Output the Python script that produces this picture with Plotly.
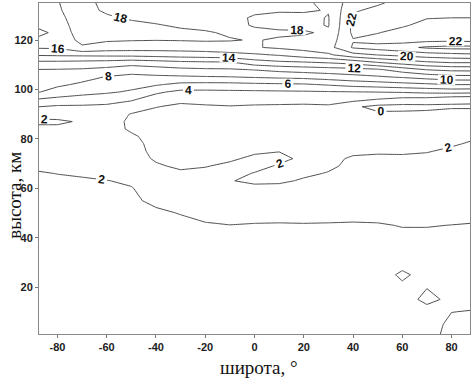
import plotly.graph_objects as go

# latitude grid (deg) and altitude grid (km)
latitudes = [-87.5, -80, -70, -60, -50, -40, -30, -20, -10, 0, 10, 20, 30, 40, 50, 60, 70, 80, 87.5]
altitudes = [1, 5, 10, 15, 20, 25, 30, 35, 40, 45, 50, 55, 60, 63, 66, 69, 72, 75, 78, 81,
             84, 87, 90, 93, 96, 99, 102, 105, 108, 111, 114, 117, 120, 123, 126, 129, 132, 135]

# field values, one row per altitude (south -> north)
r001 = [1.0, 1.0, 1.0, 1.0, 1.0, 1.0, 1.0, 1.0, 1.0, 1.0, 1.0, 1.0, 1.0, 1.0, 1.0, 1.0, 0.6, -0.5, -0.6]
r005 = [1.0, 1.0, 1.0, 1.0, 1.0, 1.0, 1.0, 1.0, 1.0, 1.0, 1.0, 1.0, 1.0, 1.0, 1.0, 1.0, 0.6, -0.3, -0.4]
r010 = [1.0, 1.0, 1.0, 1.0, 1.0, 1.0, 1.0, 1.0, 1.0, 1.0, 1.0, 1.0, 1.0, 1.0, 1.0, 0.9, 0.5, 0.02, -0.05]
r015 = [1.0, 1.0, 1.0, 1.0, 1.0, 1.0, 1.0, 1.0, 1.0, 1.0, 1.0, 1.0, 1.0, 1.0, 0.9, 0.6, -0.35, 0.3, 0.4]
r020 = [1.0, 1.0, 1.0, 1.0, 1.0, 1.0, 1.0, 1.0, 1.0, 1.0, 1.0, 1.0, 1.0, 1.0, 0.9, 0.3, 0.05, 0.5, 0.6]
r025 = [1.05, 1.05, 1.05, 1.05, 1.05, 1.05, 1.05, 1.05, 1.05, 1.05, 1.05, 1.05, 1.05, 1.05, 0.8, -0.3, 0.6, 0.7, 0.8]
r030 = [1.1, 1.1, 1.1, 1.1, 1.1, 1.1, 1.1, 1.1, 1.1, 1.1, 1.1, 1.1, 1.1, 1.1, 0.9, 0.6, 0.8, 0.9, 0.9]
r035 = [1.2, 1.2, 1.2, 1.2, 1.2, 1.2, 1.2, 1.2, 1.2, 1.2, 1.2, 1.2, 1.2, 1.2, 1.2, 1.0, 1.1, 1.2, 1.2]
r040 = [1.2, 1.2, 1.25, 1.3, 1.35, 1.3, 1.4, 1.5, 1.6, 1.6, 1.6, 1.6, 1.6, 1.55, 1.6, 1.5, 1.5, 1.5, 1.5]
r045 = [1.3, 1.3, 1.35, 1.4, 1.5, 1.5, 1.7, 1.8, 1.97, 1.85, 1.8, 1.85, 1.8, 1.75, 1.8, 2.1, 2.1, 1.97, 1.85]
r050 = [1.4, 1.4, 1.45, 1.5, 1.65, 1.8, 2.05, 2.6, 2.8, 2.8, 2.8, 2.8, 2.8, 2.7, 2.8, 2.8, 2.8, 2.8, 2.8]
r055 = [1.5, 1.55, 1.6, 1.65, 1.8, 2.25, 2.6, 2.9, 3.0, 3.0, 2.9, 2.9, 2.9, 2.9, 2.9, 2.9, 2.9, 2.9, 2.9]
r060 = [1.65, 1.7, 1.75, 1.85, 1.95, 2.5, 2.8, 2.9, 2.6, 2.5, 2.5, 2.6, 2.8, 2.9, 2.9, 2.9, 2.9, 2.9, 2.9]
r063 = [1.75, 1.82, 1.9, 1.97, 2.15, 2.5, 2.6, 2.8, 2.1, 1.6, 1.7, 2.2, 2.6, 2.8, 2.85, 2.8, 2.8, 2.85, 2.85]
r066 = [1.92, 2.02, 2.1, 2.3, 2.4, 2.4, 2.2, 2.5, 2.6, 1.9, 1.6, 1.7, 2.1, 2.6, 2.7, 2.7, 2.75, 2.8, 2.8]
r069 = [2.2, 2.3, 2.35, 2.5, 2.5, 2.15, 1.8, 1.9, 2.4, 2.6, 1.8, 1.6, 1.7, 2.4, 2.5, 2.5, 2.6, 2.7, 2.75]
r072 = [2.4, 2.5, 2.5, 2.6, 2.55, 1.85, 1.6, 1.6, 1.7, 2.4, 2.5, 1.6, 1.6, 2.2, 2.3, 2.25, 2.4, 2.6, 2.65]
r075 = [2.5, 2.6, 2.6, 2.65, 2.6, 1.6, 1.5, 1.5, 1.5, 1.7, 1.95, 1.5, 1.5, 1.7, 1.8, 1.8, 1.9, 2.3, 2.5]
r078 = [2.6, 2.6, 2.6, 2.7, 2.5, 1.5, 1.5, 1.4, 1.3, 1.4, 1.5, 1.4, 1.4, 1.5, 1.5, 1.5, 1.6, 1.8, 2.15]
r081 = [2.6, 2.6, 2.6, 2.7, 2.2, 1.5, 1.45, 1.3, 1.3, 1.3, 1.3, 1.3, 1.3, 1.3, 1.3, 1.3, 1.4, 1.5, 1.7]
r084 = [2.4, 2.4, 2.6, 2.6, 1.8, 1.5, 1.4, 1.3, 1.3, 1.3, 1.3, 1.3, 1.2, 1.1, 1.1, 1.1, 1.2, 1.3, 1.4]
r087 = [1.7, 1.7, 2.2, 2.6, 1.75, 1.5, 1.4, 1.3, 1.3, 1.3, 1.3, 1.3, 1.2, 0.8, 0.9, 0.9, 1.0, 1.1, 1.2]
r090 = [2.6, 2.8, 2.9, 3.0, 1.9, 1.6, 1.4, 1.3, 1.3, 1.3, 1.3, 1.3, 1.3, 0.4, 0.3, 0.4, 0.5, 0.9, 0.9]
r093 = [4.0, 3.7, 3.7, 3.6, 3.04, 2.05, 1.7, 1.8, 1.9, 1.8, 1.75, 1.7, 1.75, 0.3, -0.5, -0.6, -0.5, -0.3, -0.3]
r096 = [5.88, 5.52, 5.21, 4.86, 4.25, 3.09, 2.38, 2.58, 2.77, 2.62, 2.6, 2.57, 2.71, 2.65, 1.95, 1.4, 1.3, 0.6, 0.5]
r099 = [8.08, 7.19, 6.6, 6.27, 5.75, 4.33, 3.54, 3.55, 3.63, 3.66, 3.74, 3.8, 3.88, 3.96, 4.05, 4.2, 4.5, 4.7, 4.6]
r102 = [8.7, 8.38, 7.65, 7.07, 6.68, 6.23, 5.5, 5.39, 5.42, 5.6, 5.7, 5.79, 6.2, 6.7, 7.0, 7.37, 7.67, 8.05, 8.05]
r105 = [9.32, 9.14, 8.71, 7.87, 7.51, 7.63, 7.71, 7.84, 7.92, 8.13, 8.34, 8.52, 8.92, 9.36, 9.74, 10.16, 10.74, 11.25, 11.3]
r108 = [9.94, 9.9, 9.79, 9.43, 8.8, 9.19, 9.53, 9.7, 9.76, 10.08, 10.57, 10.91, 11.14, 11.33, 11.69, 12.93, 14.05, 14.5, 14.55]
r111 = [11.64, 11.63, 11.5, 11.33, 10.96, 11.25, 11.63, 11.79, 11.86, 13.17, 13.67, 13.89, 14.24, 14.83, 16.05, 17.0, 17.75, 18.2, 18.2]
r114 = [14.21, 14.3, 14.4, 14.5, 14.61, 14.8, 15.0, 15.16, 15.38, 15.67, 16.18, 17.0, 17.67, 19.33, 20.05, 20.57, 21.1, 21.4, 21.6]
r117 = [16.23, 16.3, 17.9, 17.2, 17.0, 16.9, 16.9, 17.0, 17.3, 17.85, 18.3, 18.7, 19.3, 22.2, 22.8, 23.4, 24.3, 24.6, 24.6]
r120 = [17.6, 17.5, 18.2, 18.2, 18.1, 18.05, 18.1, 18.2, 18.1, 17.9, 18.2, 18.4, 19.0, 21.9, 21.2, 21.0, 21.4, 21.5, 21.4]
r123 = [18.4, 17.6, 18.3, 18.5, 18.5, 18.4, 18.3, 18.15, 17.8, 17.6, 17.7, 17.8, 18.3, 22.4, 22.1, 21.2, 20.9, 20.8, 20.8]
r126 = [17.6, 17.7, 18.35, 18.5, 18.4, 18.1, 17.8, 17.6, 17.5, 18.15, 18.5, 18.45, 17.9, 22.5, 22.8, 22.3, 21.3, 21.1, 21.1]
r129 = [17.4, 17.8, 18.4, 18.2, 17.8, 17.6, 17.5, 17.5, 17.5, 18.2, 18.6, 18.5, 17.9, 22.3, 22.8, 22.9, 22.1, 22.0, 22.0]
r132 = [17.4, 17.9, 18.45, 17.8, 17.6, 17.5, 17.5, 17.5, 17.5, 17.7, 17.8, 17.8, 18.1, 21.8, 22.4, 22.9, 22.7, 22.6, 22.6]
r135 = [17.5, 17.95, 18.5, 17.6, 17.6, 17.5, 17.5, 17.5, 17.5, 17.5, 17.6, 17.6, 18.6, 21.0, 21.8, 22.5, 23.0, 23.0, 23.0]

values = [r001, r005, r010, r015, r020, r025, r030, r035, r040, r045, r050, r055, r060,
          r063, r066, r069, r072, r075, r078, r081, r084, r087, r090, r093, r096, r099,
          r102, r105, r108, r111, r114, r117, r120, r123, r126, r129, r132, r135]

x_ticks = [-80, -60, -40, -20, 0, 20, 40, 60, 80]
x_tick_text = ["-80", "-60", "-40", "-20", "0", "20", "40", "60", "80"]
y_ticks = [20, 40, 60, 80, 100, 120]
y_tick_text = ["20", "40", "60", "80", "100", "120"]

fig = go.Figure(go.Contour(
    x=latitudes, y=altitudes, z=values,
    contours=dict(start=0, end=24, size=2, coloring="lines", showlabels=True,
                  labelfont=dict(family="Liberation Sans", size=12, color="#111",
                                 weight="bold")),
    colorscale=[[0, "#3a3a3a"], [1, "#3a3a3a"]],
    line=dict(width=0.9, smoothing=0),
    showscale=False, hoverinfo="skip",
))

axis_font = dict(family="Liberation Sans", size=11, color="#222", weight="bold")
fig.update_xaxes(range=[-87.5, 87.5], tickvals=x_ticks, ticktext=x_tick_text,
                 ticks="outside", ticklen=3, tickcolor="#777", showline=True,
                 linecolor="#888", linewidth=1, mirror=True, showgrid=False,
                 zeroline=False, tickfont=axis_font, automargin=False)
fig.update_yaxes(range=[1, 135], tickvals=y_ticks, ticktext=y_tick_text,
                 ticks="outside", ticklen=3, tickcolor="#777", showline=True,
                 linecolor="#888", linewidth=1, mirror=True, showgrid=False,
                 zeroline=False, tickfont=axis_font, automargin=False)

fig.update_layout(
    width=473, height=379,
    margin=dict(l=39, r=3, t=3, b=45, pad=0, autoexpand=False),
    paper_bgcolor="white", plot_bgcolor="white",
    showlegend=False,
    annotations=[
        dict(text="высота, км", xref="paper", yref="paper", x=-0.056, y=0.42,
             textangle=-90, showarrow=False, xanchor="center", yanchor="middle",
             font=dict(family="Liberation Serif", size=19, color="#111")),
        dict(text="широта, °", xref="paper", yref="paper", x=0.51, y=-0.1,
             showarrow=False, xanchor="center", yanchor="middle",
             font=dict(family="Liberation Serif", size=19, color="#111")),
    ],
)

fig.write_html("out.html", config={"displayModeBar": False},
               post_script="document.body.style.margin='0';document.body.style.overflow='hidden';")
